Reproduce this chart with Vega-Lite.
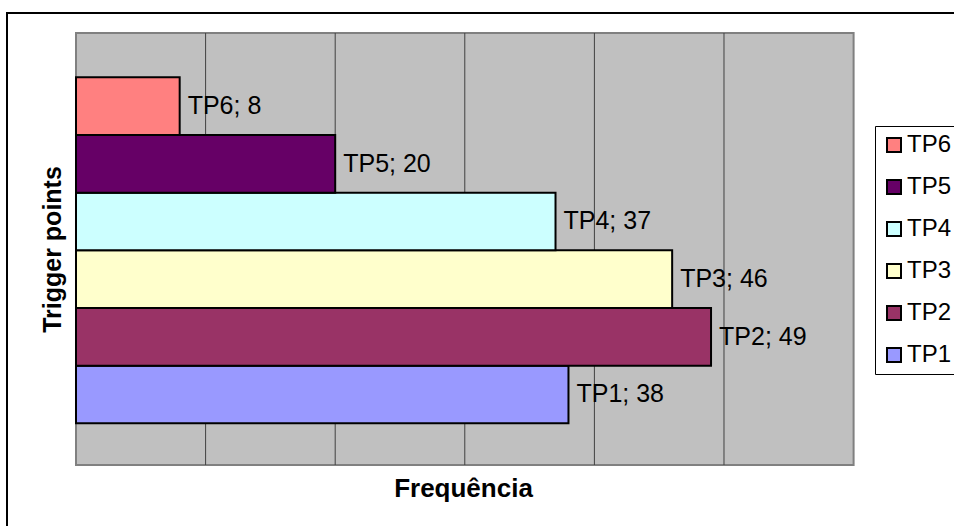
{
  "$schema": "https://vega.github.io/schema/vega-lite/v6.json",
  "autosize": "none",
  "width": 951,
  "height": 517,
  "padding": {"left": 7, "top": 13, "right": -4, "bottom": -4},
  "background": "white",
  "config": {
    "view": {"stroke": "black", "strokeWidth": 2, "fill": "white"},
    "font": "Liberation Sans",
    "legend": {
      "orient": "none",
      "legendX": 868,
      "legendY": 113,
      "strokeColor": "black",
      "fillColor": "white",
      "padding": 7,
      "rowPadding": 18,
      "symbolType": "square",
      "symbolSize": 196,
      "symbolStrokeColor": "black",
      "symbolStrokeWidth": 2,
      "labelFontSize": 24,
      "labelFont": "Liberation Sans",
      "labelColor": "black",
      "labelOffset": 1,
      "title": null
    }
  },
  "datasets": {
    "plot": [{"x0": 0, "x1": 60, "y0": 0, "y1": 100}],
    "grid": [{"g": 10}, {"g": 20}, {"g": 30}, {"g": 40}, {"g": 50}],
    "tp": [
      {"tp": "TP1", "value": 38},
      {"tp": "TP2", "value": 49},
      {"tp": "TP3", "value": 46},
      {"tp": "TP4", "value": 37},
      {"tp": "TP5", "value": 20},
      {"tp": "TP6", "value": 8}
    ]
  },
  "resolve": {"scale": {"y": "independent"}},
  "layer": [
    {
      "data": {"name": "plot"},
      "mark": {"type": "rect", "fill": "#C0C0C0", "stroke": "#808080", "strokeWidth": 2},
      "encoding": {
        "x": {"field": "x0", "type": "quantitative", "scale": {"domain": [-5.324, 68.056], "zero": false, "nice": false},
          "axis": {"title": "Frequência", "labels": false, "ticks": false, "domain": false, "grid": false, "titleX": 456, "titleY": -34, "titleBaseline": "alphabetic", "titleFontSize": 26, "titleFontWeight": "bold", "titleColor": "black", "titleFont": "Liberation Sans"}},
        "x2": {"field": "x1"},
        "y": {"field": "y0", "type": "quantitative", "scale": {"domain": [-15.046, 104.63], "zero": false, "nice": false}, "axis": null},
        "y2": {"field": "y1"}
      }
    },
    {
      "data": {"name": "grid"},
      "mark": {"type": "rule", "color": "#404040", "strokeWidth": 1},
      "encoding": {
        "x": {"field": "g", "type": "quantitative", "scale": {"domain": [-5.324, 68.056], "zero": false, "nice": false},
          "axis": {"title": "Frequência", "labels": false, "ticks": false, "domain": false, "grid": false, "titleX": 456, "titleY": -34, "titleBaseline": "alphabetic", "titleFontSize": 26, "titleFontWeight": "bold", "titleColor": "black", "titleFont": "Liberation Sans"}},
        "y": {"datum": 0, "type": "quantitative", "scale": {"domain": [-15.046, 104.63], "zero": false, "nice": false}, "axis": null},
        "y2": {"datum": 100}
      }
    },
    {
      "data": {"name": "tp"},
      "mark": {"type": "bar", "stroke": "black", "strokeWidth": 2},
      "encoding": {
        "x": {"field": "value", "type": "quantitative", "scale": {"domain": [-5.324, 68.056], "zero": false, "nice": false},
          "axis": {"title": "Frequência", "labels": false, "ticks": false, "domain": false, "grid": false, "titleX": 456, "titleY": -34, "titleBaseline": "alphabetic", "titleFontSize": 26, "titleFontWeight": "bold", "titleColor": "black", "titleFont": "Liberation Sans"}},
        "x2": {"datum": 0},
        "y": {"field": "tp", "type": "nominal", "sort": ["TP6", "TP5", "TP4", "TP3", "TP2", "TP1"],
          "scale": {"type": "band", "domain": ["TP6", "TP5", "TP4", "TP3", "TP2", "TP1"], "range": [64.3, 410.3], "paddingInner": 0, "paddingOuter": 0},
          "axis": {"title": "Trigger points", "labels": false, "ticks": false, "domain": false, "grid": false, "titleAngle": -90, "titleX": 53, "titleY": 236, "titleBaseline": "alphabetic", "titleAlign": "center", "titleFontSize": 25, "titleFontWeight": "bold", "titleColor": "black", "titleFont": "Liberation Sans"}},
        "color": {"field": "tp", "type": "nominal",
          "scale": {"domain": ["TP6", "TP5", "TP4", "TP3", "TP2", "TP1"], "range": ["#FF8080", "#660066", "#CCFFFF", "#FFFFCC", "#993366", "#9999FF"]},
          "legend": {"title": null}}
      }
    },
    {
      "data": {"name": "tp"},
      "transform": [{"calculate": "datum.tp + '; ' + datum.value", "as": "label"}],
      "mark": {"type": "text", "align": "left", "baseline": "middle", "dx": 8, "fontSize": 25, "font": "Liberation Sans", "color": "black"},
      "encoding": {
        "x": {"field": "value", "type": "quantitative", "scale": {"domain": [-5.324, 68.056], "zero": false, "nice": false},
          "axis": {"title": "Frequência", "labels": false, "ticks": false, "domain": false, "grid": false, "titleX": 456, "titleY": -34, "titleBaseline": "alphabetic", "titleFontSize": 26, "titleFontWeight": "bold", "titleColor": "black", "titleFont": "Liberation Sans"}},
        "y": {"field": "tp", "type": "nominal", "sort": ["TP6", "TP5", "TP4", "TP3", "TP2", "TP1"],
          "scale": {"type": "band", "domain": ["TP6", "TP5", "TP4", "TP3", "TP2", "TP1"], "range": [64.3, 410.3], "paddingInner": 0, "paddingOuter": 0},
          "axis": null},
        "text": {"field": "label"}
      }
    }
  ]
}
